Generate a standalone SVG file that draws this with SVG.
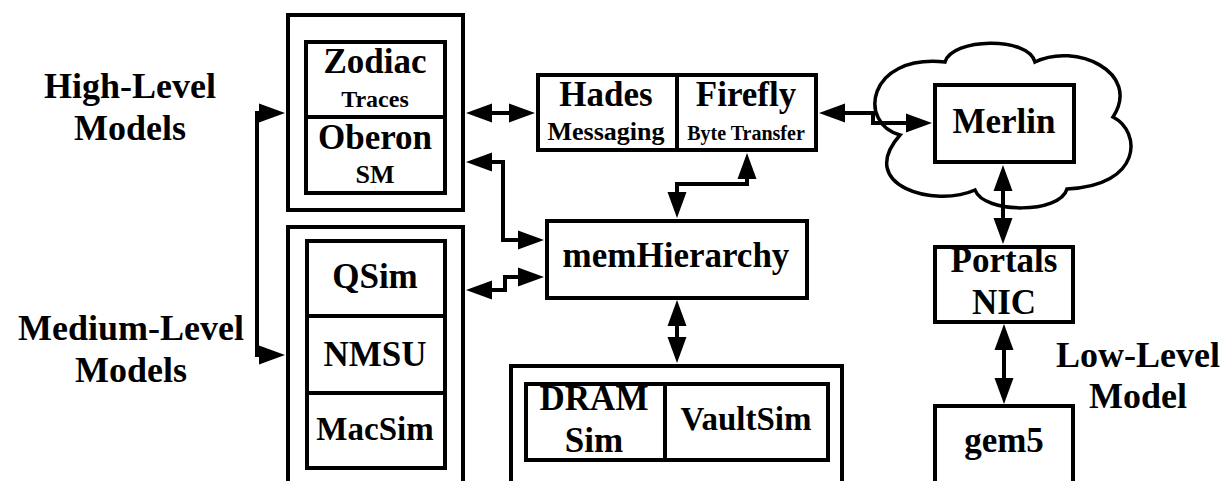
<svg xmlns="http://www.w3.org/2000/svg" width="1225" height="481" viewBox="0 0 1225 481">
<style>
.box{fill:#fff;stroke:#000;stroke-width:4}
.ln{fill:none;stroke:#000;stroke-width:4}
.cn{fill:none;stroke:#000;stroke-width:4;stroke-linejoin:miter;marker-start:url(#ah);marker-end:url(#ah)}
.cn1{fill:none;stroke:#000;stroke-width:4;stroke-linejoin:miter}
text{font-family:"Liberation Serif","Times New Roman",serif;font-weight:bold;text-anchor:middle;fill:#000}
.t35{font-size:35px}
.t36{font-size:36px}
.t33{font-size:33px}
.t26{font-size:26px}
.t24{font-size:24px}
.t20{font-size:20px}
</style>
<defs>
<marker id="ah" markerUnits="userSpaceOnUse" markerWidth="27" markerHeight="20" refX="1" refY="9.5" orient="auto-start-reverse" overflow="visible">
<path d="M0,0 L26,9.5 L0,19 Z" fill="#000"/>
</marker>
</defs>
<rect width="1225" height="481" fill="#fff"/>

<g id="cloud">
<path d="M945 62 C952 38,1028 36,1035 62 C1075 42,1142 72,1113 117 C1142 132,1142 186,1067 189 C1060 214,984 214,975 190 C935 208,855 186,900 135 C858 124,866 54,945 62 Z" fill="#fff" stroke="#000" stroke-width="3.5"/>
</g>

<g id="labels">
<text class="t36" x="130" y="98">High-Level</text>
<text class="t36" x="130" y="140">Models</text>
<text class="t36" x="131" y="340">Medium-Level</text>
<text class="t36" x="131" y="382">Models</text>
<text class="t36" x="1138" y="367">Low-Level</text>
<text class="t36" x="1138" y="408">Model</text>
</g>

<g id="connectors">
<path class="cn" d="M260 113 L257 113 L257 355 L260 355"/>
<path class="cn" d="M491 113 L510 113"/>
<path class="cn" d="M491 162 L503 162 L503 240 L519 240"/>
<path class="cn" d="M491 290 L505 290 L505 277 L519 277"/>
<path class="cn" d="M747 178 L747 184 L677 184 L677 193"/>
<path class="cn" d="M844 113 L873 113 L873 123 L907 123"/>
<path class="cn" d="M1003 190 L1003 219"/>
<path class="cn" d="M1004 349 L1004 379"/>
<path class="cn" d="M677 325 L677 338"/>
</g>

<g id="high-level">
<rect class="box" x="288" y="15" width="175" height="195"/>
<g id="zodiac-oberon">
<rect class="box" x="306" y="42" width="139" height="151"/>
<line class="ln" x1="306" y1="117" x2="445" y2="117"/>
<text class="t35" x="375" y="73">Zodiac</text>
<text class="t24" x="375" y="107">Traces</text>
<text class="t35" x="375" y="149">Oberon</text>
<text class="t26" x="375" y="183">SM</text>
</g>
</g>

<g id="medium-level">
<rect class="box" x="288" y="227" width="175" height="280"/>
<g id="qsim-nmsu-macsim">
<rect class="box" x="307" y="241" width="138" height="227"/>
<line class="ln" x1="307" y1="316" x2="445" y2="316"/>
<line class="ln" x1="307" y1="393" x2="445" y2="393"/>
<text class="t35" x="375" y="288">QSim</text>
<text class="t35" x="375" y="366">NMSU</text>
<text class="t33" x="375" y="440">MacSim</text>
</g>
</g>

<g id="hades-firefly">
<rect class="box" x="538" y="75" width="278" height="75"/>
<line class="ln" x1="677" y1="75" x2="677" y2="150"/>
<text class="t35" x="606" y="106">Hades</text>
<text class="t26" x="606" y="140">Messaging</text>
<text class="t35" x="746" y="106">Firefly</text>
<text class="t20" x="746" y="140">Byte Transfer</text>
</g>

<g id="memHierarchy">
<rect class="box" x="547" y="221" width="260" height="77"/>
<text class="t35" x="676" y="267">memHierarchy</text>
</g>

<g id="memory">
<rect class="box" x="511" y="366" width="331" height="140"/>
<g id="dramsim-vaultsim">
<rect class="box" x="526" y="384" width="302" height="76"/>
<line class="ln" x1="665" y1="384" x2="665" y2="460"/>
<text class="t35" x="594" y="410">DRAM</text>
<text class="t35" x="594" y="452">Sim</text>
<text class="t33" x="746" y="430">VaultSim</text>
</g>
</g>

<g id="merlin">
<rect class="box" x="935" y="85" width="139" height="77"/>
<text class="t35" x="1004" y="133">Merlin</text>
</g>

<g id="portals-nic">
<rect class="box" x="935" y="247" width="138" height="75"/>
<text class="t35" x="1004" y="272">Portals</text>
<text class="t35" x="1004" y="314">NIC</text>
</g>

<g id="gem5">
<rect class="box" x="935" y="406" width="138" height="100"/>
<text class="t35" x="1004" y="452">gem5</text>
</g>
</svg>
